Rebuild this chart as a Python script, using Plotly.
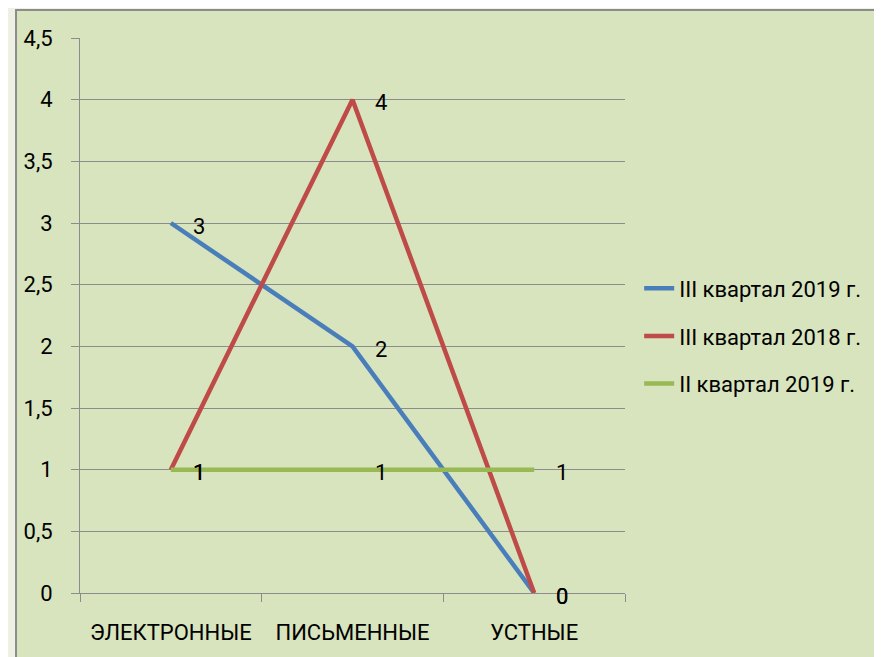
import plotly.graph_objects as go

categories = ["ЭЛЕКТРОННЫЕ", "ПИСЬМЕННЫЕ", "УСТНЫЕ"]
series_names = ["III квартал 2019 г.", "III квартал 2018 г.", "II квартал 2019 г."]
values_2019_q3 = [3, 2, 0]
values_2018_q3 = [1, 4, 0]
values_2019_q2 = [1, 1, 1]
colors = ["#4a7ebb", "#be4b48", "#98b954"]
y_ticks = [0, 0.5, 1, 1.5, 2, 2.5, 3, 3.5, 4, 4.5]

FONT = "Roboto"
FS = 22
series = [values_2019_q3, values_2018_q3, values_2019_q2]

fig = go.Figure()
annotations = []
for i, (name, vals, col) in enumerate(zip(series_names, series, colors)):
    fig.add_trace(go.Scatter(
        x=categories, y=vals, name=name, mode="lines",
        line=dict(color=col, width=4.5), legendgroup=f"g{i}",
    ))
    for c, v in zip(categories, vals):
        annotations.append(dict(
            x=c, y=v, xref="x", yref="y", text=str(v), showarrow=False,
            xshift=28, yshift=-3,
            font=dict(family=FONT, size=FS, color="#000000"),
        ))

fig.update_layout(
    width=882, height=657,
    margin=dict(l=72, r=265, t=30, b=72),
    paper_bgcolor="#eef0e4",
    plot_bgcolor="rgba(0,0,0,0)",
    separators=", ",
    font=dict(family=FONT, size=FS, color="#000000"),
    showlegend=True,
    legend=dict(
        x=1.026, y=0.463, xanchor="left", yanchor="middle",
        bgcolor="rgba(0,0,0,0)", tracegroupgap=16,
        font=dict(family=FONT, size=FS, color="#000000"),
    ),
    annotations=annotations,
    shapes=[dict(
        type="rect", xref="paper", yref="paper", layer="below",
        x0=-0.1174, x1=1.7, y0=-0.3, y1=1.0505,
        fillcolor="#d7e4bd", line=dict(color="#8c8c8c", width=2),
    )],
)

fig.update_xaxes(
    type="category", range=[-0.5, 2.5], tickson="boundaries",
    ticks="outside", ticklen=8, tickcolor="#8c8c8c", tickwidth=1,
    showgrid=False, showline=True, linecolor="#8c8c8c", linewidth=1,
    tickfont=dict(family=FONT, size=FS), ticklabelstandoff=20,
    zeroline=False,
)
fig.update_yaxes(
    range=[0, 4.5], tickvals=y_ticks,
    ticks="outside", ticklen=8, tickcolor="#8c8c8c", tickwidth=1,
    showgrid=True, gridcolor="#8c8c8c", gridwidth=1,
    showline=True, linecolor="#8c8c8c", linewidth=1,
    tickfont=dict(family=FONT, size=FS), ticklabelstandoff=14,
    zeroline=False,
)

fig.write_html("out.html")
